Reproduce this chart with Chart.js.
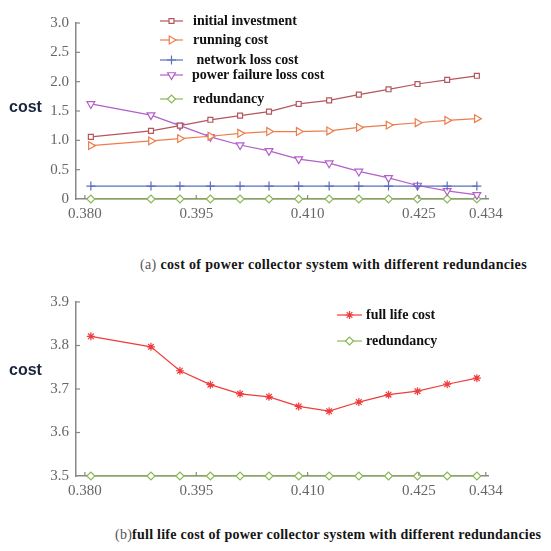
<!DOCTYPE html>
<html><head><meta charset="utf-8">
<script src="https://cdn.jsdelivr.net/npm/chart.js@4.4.0/dist/chart.umd.min.js"></script>
<style>
html,body{margin:0;padding:0;background:#fff;width:551px;height:551px;overflow:hidden;position:relative;}
canvas{position:absolute;left:0;}
#ca{top:0;}
#cb{top:280px;}
.ylab{position:absolute;font-family:"Liberation Sans",Arial,sans-serif;font-weight:bold;font-size:16px;color:#1b2540;}
.cap{position:absolute;font-family:"Liberation Serif","Times New Roman",serif;font-size:14px;font-weight:bold;letter-spacing:0.35px;color:#151515;white-space:nowrap;}
.cap span{color:#555;font-weight:normal;}
</style></head><body>
<canvas id="ca" width="551" height="230"></canvas>
<canvas id="cb" width="551" height="230"></canvas>
<div class="ylab" style="left:9px;top:98px;">cost</div>
<div class="ylab" style="left:9px;top:361px;">cost</div>
<div class="cap" style="left:140px;top:257px;"><span>(a)</span> cost of power collector system with different redundancies</div>
<div class="cap" style="left:115px;top:527px;letter-spacing:0.25px;"><span>(b)</span>full life cost of power collector system with different redundancies</div>
<script>
// ---- data ----
const redundancy = [0.3808, 0.3889, 0.3928, 0.3969, 0.4009, 0.4048, 0.4088, 0.4129, 0.4169, 0.4209, 0.4248, 0.4288, 0.4328];
const xTickValues = [0.380, 0.395, 0.410, 0.425, 0.434];
const initialInvestment = [1.06, 1.16, 1.25, 1.35, 1.42, 1.49, 1.62, 1.68, 1.78, 1.87, 1.96, 2.03, 2.10];
const runningCost = [0.91, 0.99, 1.03, 1.07, 1.12, 1.15, 1.15, 1.16, 1.22, 1.26, 1.30, 1.34, 1.37];
const networkLossCost = [0.22, 0.22, 0.22, 0.22, 0.22, 0.22, 0.22, 0.22, 0.22, 0.22, 0.22, 0.22, 0.22];
const powerFailureLossCost = [1.62, 1.43, 1.25, 1.06, 0.92, 0.82, 0.68, 0.61, 0.47, 0.36, 0.23, 0.14, 0.07];
const redundancyLineA = [0, 0, 0, 0, 0, 0, 0, 0, 0, 0, 0, 0, 0];
const yTicksA = [0, 0.5, 1.0, 1.5, 2.0, 2.5, 3.0];
const fullLifeCost = [3.821, 3.797, 3.742, 3.710, 3.689, 3.682, 3.660, 3.649, 3.670, 3.687, 3.695, 3.711, 3.725];
const redundancyLineB = [3.5, 3.5, 3.5, 3.5, 3.5, 3.5, 3.5, 3.5, 3.5, 3.5, 3.5, 3.5, 3.5];
const yTicksB = [3.5, 3.6, 3.7, 3.8, 3.9];

const pts = arr => arr.map((v, i) => ({x: redundancy[i], y: v}));

const innerTicks = {
  id: 'innerTicks',
  afterDraw(chart) {
    const ctx = chart.ctx, a = chart.chartArea;
    const xs = chart.scales.x, ys = chart.scales.y;
    ctx.save();
    ctx.strokeStyle = '#888'; ctx.lineWidth = 1.2;
    ys.ticks.forEach(t => {
      const p = ys.getPixelForValue(t.value);
      if (Math.abs(p - a.bottom) < 1) return;
      ctx.beginPath(); ctx.moveTo(a.left, p); ctx.lineTo(a.left + 4, p); ctx.stroke();
    });
    xs.ticks.forEach(t => {
      const p = xs.getPixelForValue(t.value);
      ctx.beginPath(); ctx.moveTo(p, a.bottom); ctx.lineTo(p, a.bottom - 4); ctx.stroke();
    });
    ctx.restore();
  }
};

const floatLegend = {
  id: 'floatLegend',
  afterDraw(chart, args, opts) {
    const ctx = chart.ctx;
    chart.data.datasets.forEach((ds, i) => {
      const y = opts.rows[i];
      const tx = opts.textX + ((opts.indent && opts.indent[i]) || 0);
      ctx.save();
      ctx.strokeStyle = ds.borderColor; ctx.lineWidth = 1.2;
      ctx.beginPath(); ctx.moveTo(opts.x0, y); ctx.lineTo(opts.x1, y); ctx.stroke();
      ctx.fillStyle = ds.pointBackgroundColor; ctx.strokeStyle = ds.borderColor; ctx.lineWidth = ds.pointBorderWidth;
      if (Chart.helpers && Chart.helpers.drawPoint) {
        Chart.helpers.drawPoint(ctx, {pointStyle: ds.pointStyle, radius: ds.pointRadius, rotation: ds.pointRotation || 0, borderWidth: ds.pointBorderWidth}, (opts.x0 + opts.x1) / 2, y);
      }
      ctx.fillStyle = '#111'; ctx.font = opts.font; ctx.textBaseline = 'middle'; ctx.textAlign = 'left';
      ctx.fillText(ds.label, tx, y);
      ctx.restore();
    });
  }
};

function ds(label, data, color, style, rot, fill, r) {
  return {
    label, data: pts(data), borderColor: color, backgroundColor: color,
    borderWidth: 1.2, pointStyle: style, pointRotation: rot || 0,
    pointRadius: r || 4, pointHoverRadius: r || 4, pointBorderWidth: 1.2,
    pointBackgroundColor: fill || '#ffffff', pointBorderColor: color,
    tension: 0, clip: false
  };
}

const tickFont = {family: '"Liberation Serif", "Times New Roman", serif', size: 15};

function makeOptions(yMin, yMax, yTicks, padTop, xH, legendOpts) {
  return {
    responsive: false, animation: false, devicePixelRatio: 1,
    layout: {padding: {top: padTop, right: 63, left: 0, bottom: 0}},
    plugins: {legend: {display: false}, tooltip: {enabled: false}, floatLegend: legendOpts},
    scales: {
      x: {
        type: 'linear', min: 0.3788, max: 0.4343,
        afterBuildTicks: s => { s.ticks = xTickValues.map(v => ({value: v})); },
        afterFit: s => { s.height = xH; },
        grid: {display: false, drawTicks: false},
        border: {display: true, color: '#888', width: 1.5},
        ticks: {font: tickFont, color: '#666', padding: 6, maxRotation: 0, callback: v => Number(v).toFixed(3)}
      },
      y: {
        min: yMin, max: yMax,
        afterBuildTicks: s => { s.ticks = yTicks.map(v => ({value: v})); },
        afterFit: s => { s.width = 76; },
        grid: {display: false, drawTicks: false},
        border: {display: true, color: '#888', width: 1.5},
        ticks: {font: tickFont, color: '#666', padding: 7, callback: v => (v === 0 ? '0' : Number(v).toFixed(1))}
      }
    }
  };
}

new Chart(document.getElementById('ca'), {
  type: 'line',
  data: {datasets: [
    ds('initial investment', initialInvestment, '#b4565c', 'rect', 0, '#ffffff', 3.5),
    ds('running cost', runningCost, '#ec7d4b', 'triangle', 90, '#ffffff', 4.5),
    ds(' network loss cost', networkLossCost, '#5a6ec4', 'cross', 0, '#ffffff', 4.5),
    ds('power failure loss cost', powerFailureLossCost, '#b35fc8', 'triangle', 180, '#ffffff', 4.5),
    ds('redundancy', redundancyLineA, '#8bb856', 'rectRot', 0, '#ffffff', 4)
  ]},
  options: makeOptions(0, 3.0, yTicksA, 23, 31, {x0: 160, x1: 183, textX: 193, rows: [21, 40, 60, 75, 99], indent: [0, 0, 0, -1, 0], font: 'bold 14px "Liberation Serif", serif'}),
  plugins: [innerTicks, floatLegend]
});

new Chart(document.getElementById('cb'), {
  type: 'line',
  data: {datasets: [
    ds('full life cost', fullLifeCost, '#f03c3c', 'star', 0, '#f03c3c', 4),
    ds('redundancy', redundancyLineB, '#8bb856', 'rectRot', 0, '#ffffff', 4)
  ]},
  options: makeOptions(3.5, 3.9, yTicksB, 22, 34, {x0: 337, x1: 362, textX: 366, rows: [35, 61], font: 'bold 14px "Liberation Serif", serif'}),
  plugins: [innerTicks, floatLegend]
});
</script>
</body></html>
